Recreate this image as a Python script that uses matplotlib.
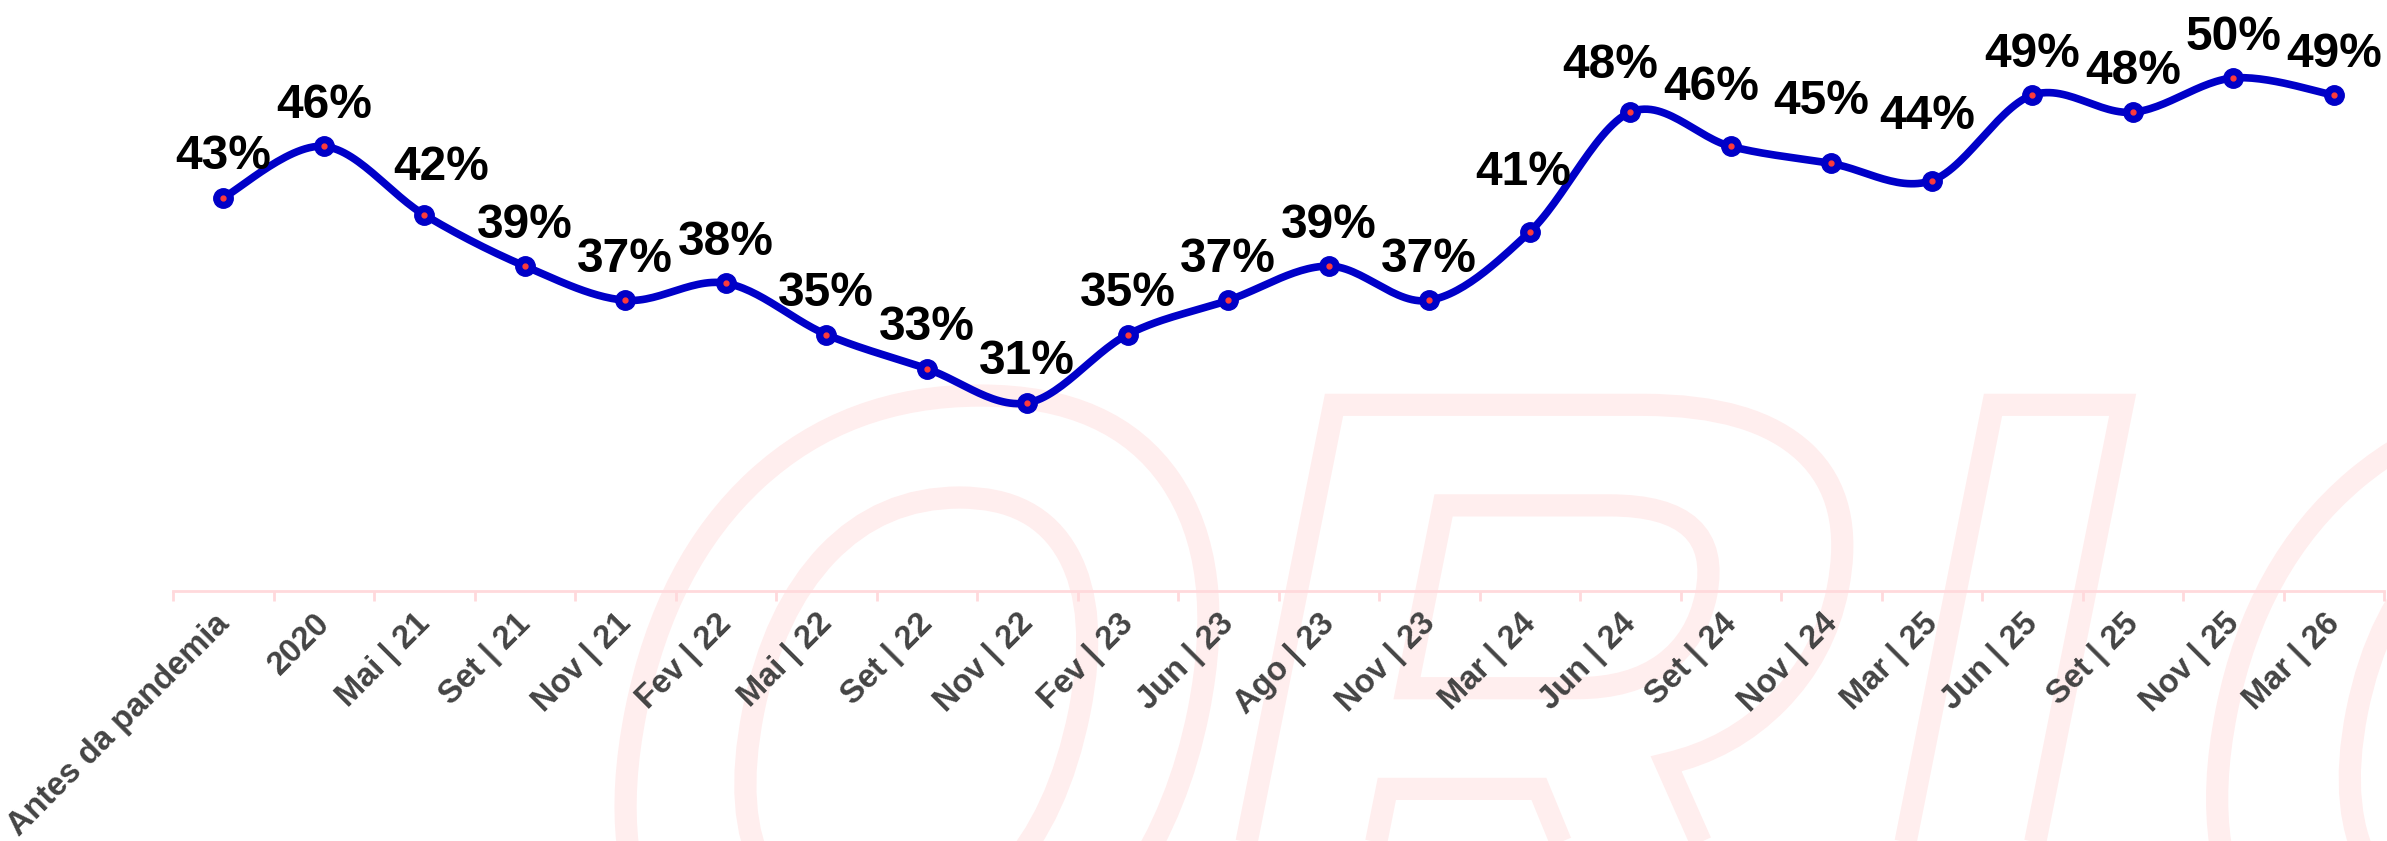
import numpy as np
import matplotlib.pyplot as plt
from matplotlib.patches import PathPatch
from matplotlib.textpath import TextPath
from matplotlib.font_manager import FontProperties
from matplotlib.transforms import Affine2D, ScaledTranslation

plt.rcParams['font.family'] = ['Liberation Sans', 'DejaVu Sans']

categories = ['Antes da pandemia', '2020', 'Mai | 21', 'Set | 21', 'Nov | 21',
              'Fev | 22', 'Mai | 22', 'Set | 22', 'Nov | 22', 'Fev | 23',
              'Jun | 23', 'Ago | 23', 'Nov | 23', 'Mar | 24', 'Jun | 24',
              'Set | 24', 'Nov | 24', 'Mar | 25', 'Jun | 25', 'Set | 25',
              'Nov | 25', 'Mar | 26']
values = [43, 46, 42, 39, 37, 38, 35, 33, 31, 35, 37, 39, 37, 41, 48, 46,
          45, 44, 49, 48, 50, 49]

# label nudges in pixels (dx, dy above point) where excel moved them
label_nudge = {2: (17, 35), 13: (-7, 47), 14: (-20, 34), 15: (-20, 46),
               16: (-10, 49), 17: (-5, 52)}

W, H = 2387, 841
BLUE = '#0000C8'


def smooth(x, y, n=30):
    """Catmull-Rom style bezier smoothing, like excel's smoothed line."""
    p = np.column_stack([x, y]).astype(float)
    p_ext = np.vstack([p[0], p, p[-1]])
    t = np.linspace(0, 1, n)[:, None]
    out = []
    for i in range(len(p) - 1):
        p0, p1, p2, p3 = p_ext[i], p_ext[i + 1], p_ext[i + 2], p_ext[i + 3]
        c1 = p1 + (p2 - p0) / 6
        c2 = p2 - (p3 - p1) / 6
        seg = ((1 - t) ** 3) * p1 + 3 * ((1 - t) ** 2) * t * c1 \
            + 3 * (1 - t) * t ** 2 * c2 + t ** 3 * p2
        out.append(seg if i == 0 else seg[1:])
    out = np.vstack(out)
    return out[:, 0], out[:, 1]


fig = plt.figure(figsize=(W / 100, H / 100), dpi=100)

# faint watermark letters in the background
fp = FontProperties(family='Liberation Sans', weight='bold')
for ch, tx, sx_ in [('O', 540, 0.9), ('R', 1150, 1.0), ('I', 1809, 1.0),
                    ('O', 2127, 1.0)]:
    tp = TextPath((0, 0), ch, size=900, prop=fp)
    tr = (Affine2D().scale(sx_, 1).skew(np.arctan(0.2), 0)
          .translate(tx, -183).scale(1 / W, 1 / H) + fig.transFigure)
    fig.add_artist(PathPatch(tp, transform=tr, facecolor='none',
                             edgecolor='#FFEEEE', lw=16, zorder=-5))

ax = fig.add_axes([173 / W, 250 / H, (2384 - 173) / W, 591 / H])
ax.set_facecolor('none')

x = np.arange(len(values))
sx, sy = smooth(x, values)
ax.plot(sx, sy, color=BLUE, lw=5.5, solid_capstyle='round', zorder=3)
ax.plot(x, values, 'o', color=BLUE, markersize=14, zorder=4)
ax.plot(x, values, 'o', color='#FF3B3B', markersize=3.5, zorder=5)

for i, v in enumerate(values):
    dx, dy = label_nudge.get(i, (0, 28.5))
    ax.annotate(f'{v}%', (i, v), xytext=(dx * 0.72, dy * 0.72),
                textcoords='offset points', ha='center', va='baseline',
                fontsize=34.5, fontweight='bold', color='black',
                annotation_clip=False)

ax.set_xlim(-0.5, len(values) - 0.5)
ax.set_ylim(20, 20 + 591 / 17.1)

for side in ['top', 'right', 'left']:
    ax.spines[side].set_visible(False)
ax.spines['bottom'].set_color('#FFD9DC')
ax.spines['bottom'].set_linewidth(2)
ax.set_yticks([])

ax.set_xticks(x)
ax.set_xticks(np.arange(len(values) + 1) - 0.5, minor=True)
ax.set_xticklabels(categories, rotation=45, ha='right', va='baseline',
                   rotation_mode='anchor', fontsize=23.5, fontweight='bold',
                   color='#444444')
ax.tick_params(axis='x', which='major', length=0, pad=24.5)
ax.tick_params(axis='x', which='minor', length=7, width=2, color='#FFD9DC')
shift = ScaledTranslation(7 / 100, 0, fig.dpi_scale_trans)
for lab in ax.get_xticklabels():
    lab.set_transform(lab.get_transform() + shift)

fig.savefig('out.png', dpi=100)
